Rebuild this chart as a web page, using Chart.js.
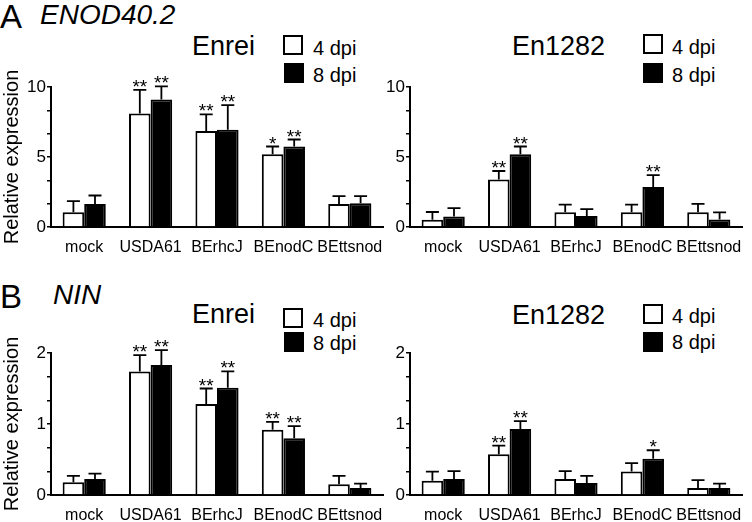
<!DOCTYPE html>
<html>
<head>
<meta charset="utf-8">
<script src="https://cdn.jsdelivr.net/npm/chart.js@4.4.1/dist/chart.umd.min.js"></script>
<style>
  html, body { margin: 0; padding: 0; background: #fff; }
  body { width: 752px; height: 522px; position: relative; overflow: hidden; font-family: 'Liberation Sans', Arial, Helvetica, sans-serif; color: #000; }
  .t { position: absolute; line-height: 1; white-space: nowrap; }
  .it { font-style: italic; }
  .box { position: absolute; width: 16px; height: 16px; border: 2px solid #000; background: #fff; }
  .box.blk { background: #000; }
  canvas { position: absolute; }
</style>
</head>
<body>
<!-- panel labels -->
<div class="t" style="left:0px; top:0px; font-size:33px;">A</div>
<div class="t it" style="left:40px; top:1px; font-size:28px;">ENOD40.2</div>
<div class="t" style="left:0px; top:280px; font-size:33px;">B</div>
<div class="t it" style="left:53px; top:281px; font-size:28px;">NIN</div>

<!-- A titles + legends -->
<div class="t" style="left:192px; top:33px; font-size:27px;">Enrei</div>
<div class="box" style="left:283px; top:35px;"></div><div class="t" style="left:313px; top:38px; font-size:20px;">4 dpi</div>
<div class="box blk" style="left:284px; top:63px;"></div><div class="t" style="left:313px; top:65px; font-size:20px;">8 dpi</div>

<div class="t" style="left:512px; top:33px; font-size:27px;">En1282</div>
<div class="box" style="left:643px; top:34px;"></div><div class="t" style="left:672px; top:37px; font-size:20px;">4 dpi</div>
<div class="box blk" style="left:643px; top:63px;"></div><div class="t" style="left:672px; top:65px; font-size:20px;">8 dpi</div>

<!-- B titles + legends -->
<div class="t" style="left:192px; top:301px; font-size:27px;">Enrei</div>
<div class="box" style="left:283px; top:308px;"></div><div class="t" style="left:313px; top:310px; font-size:20px;">4 dpi</div>
<div class="box blk" style="left:284px; top:332px;"></div><div class="t" style="left:313px; top:333px; font-size:20px;">8 dpi</div>

<div class="t" style="left:512px; top:302px; font-size:27px;">En1282</div>
<div class="box" style="left:643px; top:304px;"></div><div class="t" style="left:672px; top:306px; font-size:20px;">4 dpi</div>
<div class="box blk" style="left:643px; top:332px;"></div><div class="t" style="left:672px; top:332px; font-size:20px;">8 dpi</div>

<canvas id="cA1" width="392" height="200" style="left:0px; top:60px;"></canvas>
<canvas id="cA2" width="372" height="200" style="left:380px; top:60px;"></canvas>
<canvas id="cB1" width="392" height="196" style="left:0px; top:326px;"></canvas>
<canvas id="cB2" width="372" height="196" style="left:380px; top:326px;"></canvas>

<script>
// ---------- data ----------
const categories = ['mock', 'USDA61', 'BErhcJ', 'BEnodC', 'BEttsnod'];
const seriesNames = ['4 dpi', '8 dpi'];

// ENOD40.2 – Enrei
const enodEnrei4 = [1.05, 8.1, 6.85, 5.2, 1.65];
const enodEnrei4Err = [0.8, 1.7, 1.2, 0.55, 0.55];
const enodEnrei8 = [1.65, 9.1, 6.95, 5.75, 1.7];
const enodEnrei8Err = [0.6, 0.95, 1.75, 0.5, 0.5];
const enodEnrei4Sig = ['', '**', '**', '*', ''];
const enodEnrei8Sig = ['', '**', '**', '**', ''];

// ENOD40.2 – En1282
const enodEn1282_4 = [0.52, 3.4, 1.05, 1.05, 1.05];
const enodEn1282_4Err = [0.55, 0.6, 0.55, 0.55, 0.6];
const enodEn1282_8 = [0.75, 5.2, 0.78, 2.85, 0.54];
const enodEn1282_8Err = [0.6, 0.55, 0.5, 0.85, 0.5];
const enodEn1282_4Sig = ['', '**', '', '', ''];
const enodEn1282_8Sig = ['', '**', '', '**', ''];

// NIN – Enrei
const ninEnrei4 = [0.18, 1.74, 1.28, 0.92, 0.15];
const ninEnrei4Err = [0.09, 0.23, 0.22, 0.11, 0.12];
const ninEnrei8 = [0.225, 1.83, 1.51, 0.8, 0.1];
const ninEnrei8Err = [0.075, 0.21, 0.23, 0.17, 0.06];
const ninEnrei4Sig = ['', '**', '**', '**', ''];
const ninEnrei8Sig = ['', '**', '**', '**', ''];

// NIN – En1282
const ninEn1282_4 = [0.2, 0.575, 0.225, 0.33, 0.1];
const ninEn1282_4Err = [0.13, 0.12, 0.11, 0.12, 0.11];
const ninEn1282_8 = [0.225, 0.93, 0.17, 0.51, 0.1];
const ninEn1282_8Err = [0.11, 0.11, 0.1, 0.12, 0.06];
const ninEn1282_4Sig = ['', '**', '', '', ''];
const ninEn1282_8Sig = ['', '**', '', '*', ''];

// y-axis ticks
const enodTickValues = [0, 1.667, 3.333, 5, 6.667, 8.333, 10];
const enodTickLabels = ['0', '', '', '5', '', '', '10'];
const ninTickValues = [0, 0.333, 0.667, 1, 1.333, 1.667, 2];
const ninTickLabels = ['0', '', '', '1', '', '', '2'];

const yTitle = 'Relative expression';

// ---------- rendering ----------
const FONT = "'Liberation Sans', Arial, Helvetica, sans-serif";
Chart.defaults.font.family = FONT;
Chart.defaults.color = '#000';

const errorPlugin = {
  id: 'errorBars',
  afterDatasetsDraw(chart) {
    const ctx = chart.ctx;
    const ys = chart.scales.y;
    ctx.save();
    chart.data.datasets.forEach((ds, i) => {
      const meta = chart.getDatasetMeta(i);
      meta.data.forEach((bar, j) => {
        const top = ys.getPixelForValue(ds.data[j] + ds.errors[j]);
        const x = bar.x;
        ctx.strokeStyle = '#000';
        ctx.lineWidth = 1.8;
        ctx.beginPath();
        ctx.moveTo(x, bar.y);
        ctx.lineTo(x, top);
        ctx.moveTo(x - 6.5, top);
        ctx.lineTo(x + 6.5, top);
        ctx.stroke();
        if (ds.sig[j]) {
          ctx.fillStyle = '#000';
          ctx.font = '19px ' + FONT;
          ctx.textAlign = 'center';
          ctx.textBaseline = 'alphabetic';
          ctx.fillText(ds.sig[j], x, top + 3);
        }
      });
    });
    ctx.restore();
  }
};

function makeChart(id, d4, e4, s4, d8, e8, s8, yMax, tickVals, tickLabels, yWidth, xHeight, padRight, showTitle) {
  return new Chart(document.getElementById(id), {
    type: 'bar',
    data: {
      labels: categories,
      datasets: [
        { label: seriesNames[0], data: d4, errors: e4, sig: s4, backgroundColor: '#fff', borderColor: '#000', borderWidth: 2 },
        { label: seriesNames[1], data: d8, errors: e8, sig: s8, backgroundColor: '#000', borderColor: '#000', borderWidth: 2 }
      ]
    },
    options: {
      responsive: false,
      animation: false,
      devicePixelRatio: 1,
      layout: { padding: { top: 27, right: padRight, left: 0, bottom: 0 } },
      plugins: { legend: { display: false }, tooltip: { enabled: false } },
      datasets: { bar: { categoryPercentage: 0.65, barPercentage: 1.0 } },
      scales: {
        x: {
          grid: { display: false },
          border: { display: true, color: '#000', width: 2 },
          ticks: { font: { size: 16 }, padding: 3, maxRotation: 0, autoSkip: false },
          afterFit: s => { s.height = xHeight; }
        },
        y: {
          min: 0, max: yMax,
          grid: { drawOnChartArea: false, drawTicks: true, tickLength: 4, color: '#000', lineWidth: 1.5 },
          border: { display: true, color: '#000', width: 2 },
          ticks: { font: { size: 17 }, padding: 1, autoSkip: false, callback: (v, i) => tickLabels[i] },
          afterBuildTicks: s => { s.ticks = tickVals.map(v => ({ value: v })); },
          title: { display: showTitle, text: yTitle, font: { size: 20 }, padding: { top: 0, bottom: 0 } },
          afterFit: s => { s.width = yWidth; }
        }
      }
    },
    plugins: [errorPlugin]
  });
}

makeChart('cA1', enodEnrei4, enodEnrei4Err, enodEnrei4Sig, enodEnrei8, enodEnrei8Err, enodEnrei8Sig,
  10, enodTickValues, enodTickLabels, 51, 33, 9, true);
makeChart('cA2', enodEn1282_4, enodEn1282_4Err, enodEn1282_4Sig, enodEn1282_8, enodEn1282_8Err, enodEn1282_8Sig,
  10, enodTickValues, enodTickLabels, 30, 33, 10, false);
makeChart('cB1', ninEnrei4, ninEnrei4Err, ninEnrei4Sig, ninEnrei8, ninEnrei8Err, ninEnrei8Sig,
  2, ninTickValues, ninTickLabels, 51, 27, 9, true);
makeChart('cB2', ninEn1282_4, ninEn1282_4Err, ninEn1282_4Sig, ninEn1282_8, ninEn1282_8Err, ninEn1282_8Sig,
  2, ninTickValues, ninTickLabels, 30, 27, 10, false);
</script>
</body>
</html>
